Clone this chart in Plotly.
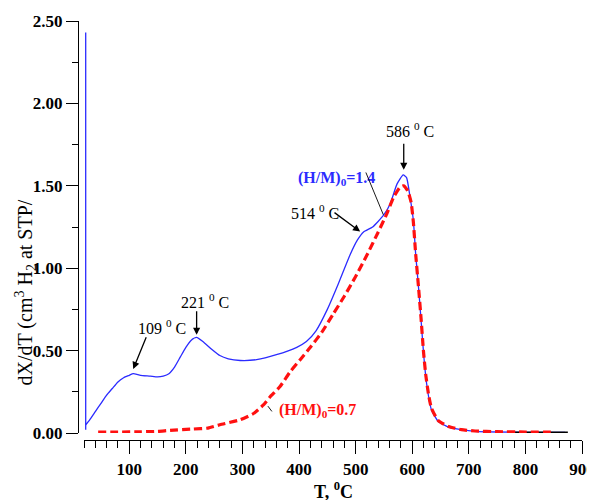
import plotly.graph_objects as go

# ---- data ----
blue_spike_T = [23, 23]
blue_spike_V = [2.43, 0.02]

blue_T = [23, 30, 40, 50, 60, 70, 80, 90, 100, 107, 120, 137, 150, 160, 170, 180, 190,
          200, 210, 219, 230, 245, 260, 275, 296, 325, 360, 396, 413, 430, 450, 470,
          490, 503, 514, 530, 549, 561, 573, 584, 590, 596, 602, 606, 611, 615.5, 620,
          624, 629, 634, 646, 664, 687, 711, 750, 800, 870]
blue_V = [0.05, 0.08, 0.13, 0.18, 0.23, 0.27, 0.31, 0.335, 0.35, 0.36, 0.35, 0.345, 0.34,
          0.345, 0.36, 0.40, 0.46, 0.52, 0.565, 0.58, 0.555, 0.51, 0.47, 0.45, 0.44,
          0.445, 0.475, 0.52, 0.555, 0.62, 0.75, 0.91, 1.08, 1.17, 1.22, 1.25, 1.32,
          1.39, 1.51, 1.566, 1.55, 1.435, 1.29, 1.09, 0.89, 0.69, 0.485, 0.34, 0.22, 0.14,
          0.07, 0.036, 0.02, 0.01, 0.006, 0.004, 0.003]

red_T = [45, 80, 120, 150, 172, 213, 239, 260, 296, 319, 337, 349, 366, 384, 402, 420,
         440, 460, 480, 500, 520, 540, 555, 567, 578, 585, 592, 598, 602, 606,
         611, 615.5, 620, 624, 629, 634, 646, 664, 687, 711, 750, 800, 850]
red_V = [0.006, 0.006, 0.007, 0.01, 0.016, 0.024, 0.03, 0.05, 0.08, 0.117, 0.17, 0.22,
         0.28, 0.37, 0.445, 0.52, 0.61, 0.72, 0.83, 0.95, 1.08, 1.22, 1.33, 1.43, 1.49,
         1.50, 1.47, 1.40, 1.28, 1.09, 0.89, 0.70, 0.49, 0.35, 0.23, 0.15,
         0.075, 0.04, 0.02, 0.012, 0.008, 0.006, 0.006]

black_T = [776, 875]
black_V = [0.003, 0.003]

label_14 = "<b>(H/M)<sub>0</sub>=1.4</b>"
label_07 = "<b>(H/M)<sub>0</sub>=0.7</b>"

# peak labels: (text, text_x, text_y, arrow_tail_x, arrow_tail_y, head_x, head_y)
peaks = [
    ("586 <sup>0</sup> C", 596, 1.84, 585, 1.765, 585, 1.597),
    ("514 <sup>0</sup> C", 428, 1.34, 460, 1.344, 508, 1.222),
    ("221 <sup>0</sup> C", 234, 0.80, 219, 0.748, 219, 0.596),
    ("109 <sup>0</sup> C", 158, 0.645, 131, 0.59, 107, 0.388),
]

FONT = "Liberation Serif"

fig = go.Figure()
fig.add_trace(go.Scatter(x=blue_spike_T, y=blue_spike_V, mode="lines",
                         line=dict(color="#2b2bff", width=1.3), showlegend=False))
fig.add_trace(go.Scatter(x=blue_T, y=blue_V, mode="lines",
                         line=dict(color="#2b2bff", width=1.3, shape="spline", smoothing=0.5),
                         showlegend=False))
fig.add_trace(go.Scatter(x=black_T, y=black_V, mode="lines",
                         line=dict(color="black", width=2.2), showlegend=False))
fig.add_trace(go.Scatter(x=red_T, y=red_V, mode="lines",
                         line=dict(color="#ff1010", width=3.2, dash="8px,4px",
                                   shape="spline", smoothing=0.5),
                         showlegend=False))

ann = []
for txt, tx, ty, ax_, ay_, hx, hy in peaks:
    ann.append(dict(x=tx, y=ty, xref="x", yref="y", text=txt, showarrow=False,
                    font=dict(family=FONT, size=16, color="black")))
    ann.append(dict(x=hx, y=hy, ax=ax_, ay=ay_, xref="x", yref="y", axref="x", ayref="y",
                    text="", showarrow=True, arrowhead=2, arrowsize=1.1, arrowwidth=1.3,
                    arrowcolor="black"))

ann.append(dict(x=467, y=1.547, xref="x", yref="y", text=label_14, showarrow=False,
                font=dict(family=FONT, size=16, color="#2b2bff")))
ann.append(dict(x=549, y=1.324, ax=517, ay=1.59, xref="x", yref="y", axref="x", ayref="y",
                text="", showarrow=True, arrowhead=0, arrowwidth=0.9, arrowcolor="black"))
ann.append(dict(x=433, y=0.135, xref="x", yref="y", text=label_07, showarrow=False,
                font=dict(family=FONT, size=16, color="#ff1010")))
ann.append(dict(x=352, y=0.131, ax=343, ay=0.172, xref="x", yref="y", axref="x", ayref="y",
                text="", showarrow=True, arrowhead=0, arrowwidth=0.9, arrowcolor="black"))

# axis titles
ann.append(dict(x=0.5, y=0, xref="x domain", yref="paper", yanchor="middle", yshift=-50,
                text="<b>T, <sup>0</sup>C</b>", showarrow=False,
                font=dict(family=FONT, size=18, color="black")))
ann.append(dict(x=0, y=0.5, xref="paper", yref="paper", xanchor="center", yanchor="middle",
                xshift=-53, yshift=-62, textangle=-90, showarrow=False,
                text="dX/dT (cm<sup>3</sup> H<sub>2</sub> at STP/",
                font=dict(family=FONT, size=20, color="black")))

# the page body has an 8px margin, so the figure is drawn from (8, 8)
fig.update_layout(
    template="none",
    width=587, height=492,
    margin=dict(l=70, r=13, t=13, b=60, autoexpand=False),
    paper_bgcolor="white", plot_bgcolor="white",
    font=dict(family=FONT, color="black"),
    annotations=ann,
    xaxis=dict(range=[20, 900], domain=[6 / 504, 1], anchor="free", position=0,
               automargin=False,
               showline=True, linecolor="black", linewidth=1.2,
               ticks="outside", ticklen=13, tickwidth=1.2, tickcolor="black",
               tick0=0, dtick=100, showgrid=False, zeroline=False,
               tickfont=dict(family=FONT, size=17, color="black", weight="bold"),
               minor=dict(dtick=20, ticks="outside", ticklen=7, tickwidth=1,
                          tickcolor="black", showgrid=False)),
    yaxis=dict(range=[0, 2.5], domain=[7 / 419, 1], anchor="free", position=0,
               automargin=False,
               showline=True, linecolor="black", linewidth=1.2,
               ticks="outside", ticklen=12, tickwidth=1.2, tickcolor="black",
               tick0=0, dtick=0.5, tickformat=".2f", showgrid=False, zeroline=False,
               tickfont=dict(family=FONT, size=17, color="black", weight="bold"),
               minor=dict(dtick=0.25, ticks="outside", ticklen=6, tickwidth=1,
                          tickcolor="black", showgrid=False)),
)

fig.write_html("out.html")
